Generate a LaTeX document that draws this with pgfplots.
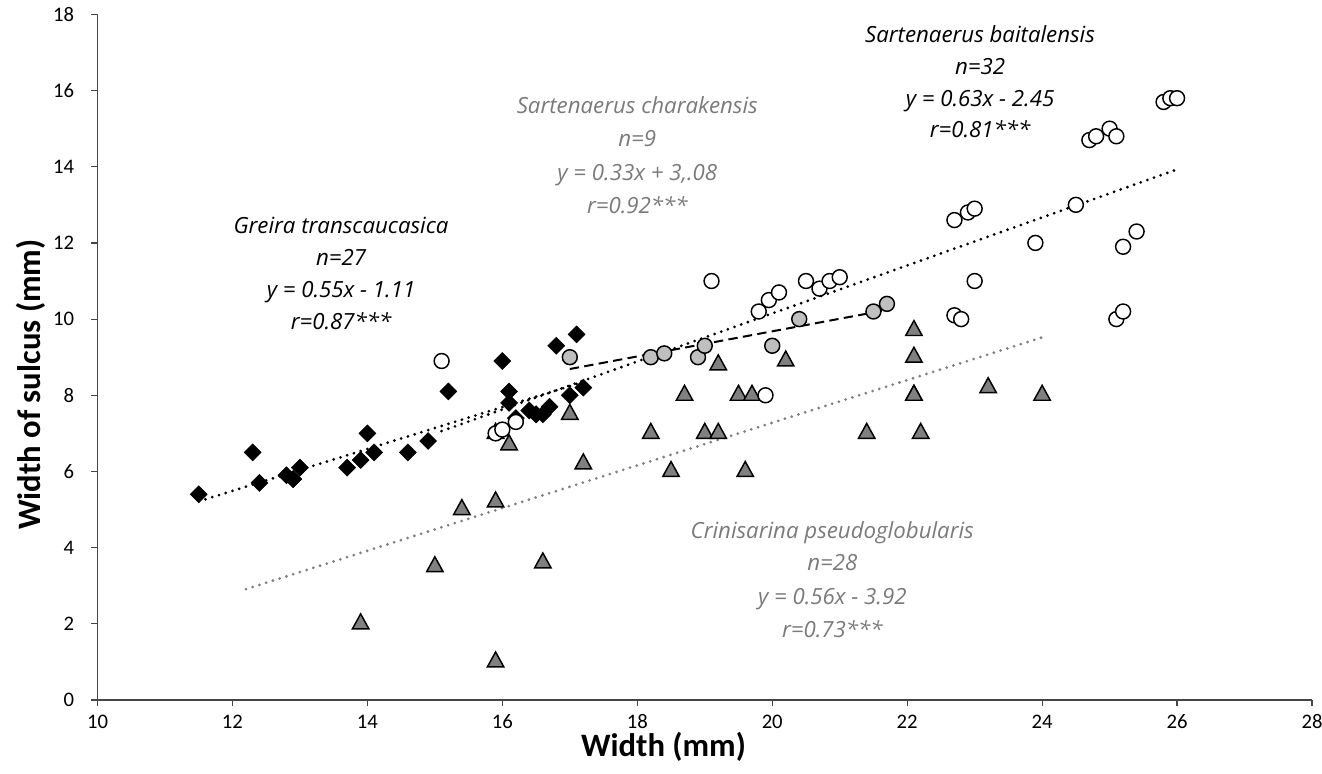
\documentclass[border=0pt]{standalone}
\usepackage{pgfplots}
\pgfplotsset{compat=1.18}
\usepackage{fontspec}
\setmainfont{Carlito}
\newfontfamily\annot{Open Sans}
\definecolor{ann}{RGB}{122,122,122}
\definecolor{tri}{RGB}{128,128,128}
\definecolor{lgc}{RGB}{191,191,191}
\definecolor{axc}{RGB}{70,70,70}
\def\px{0.75pt}
\begin{document}
\begin{tikzpicture}
\path[use as bounding box] (-97.5*\px,-74*\px) rectangle (1224.5*\px,700*\px);
\begin{axis}[
  scale only axis,
  width=910.9pt, height=514.2pt,
  xmin=10, xmax=28, ymin=0, ymax=18,
  xtick={10,12,...,28}, ytick={0,2,...,18},
  axis lines=left,
  axis line style={axc, line width=0.9pt, -},
  tick style={axc, line width=0.9pt},
  tick align=outside,
  major tick length=4.5pt,
  /pgf/number format/assume math mode=true,
  tick label style={font=\fontsize{15.5}{18}\selectfont, text=black},
  xticklabel style={yshift=-3pt},
  yticklabel style={xshift=-9.5pt},
  xlabel={\bfseries Width (mm)},
  ylabel={\bfseries Width of sulcus (mm)},
  label style={font=\fontsize{24.5}{27}\selectfont},
  xlabel style={at={(axis description cs:0.466,-0.069)}, anchor=center},
  ylabel style={at={(axis description cs:-0.0545,0.46)}, anchor=center, rotate=0},
  clip=false,
]
% trend lines
\addplot[black, line width=2.3pt, line cap=round, dash pattern=on 0pt off 5.3pt] coordinates {(11.5,5.215) (17.2,8.35)};
\addplot[black, line width=2.3pt, line cap=round, dash pattern=on 0pt off 5.3pt] coordinates {(15.1,7.06) (26.0,13.93)};
\addplot[tri, line width=2.3pt, line cap=round, dash pattern=on 0pt off 5.3pt] coordinates {(12.2,2.91) (24.0,9.52)};
% Greira transcaucasica
\addplot[only marks, mark=square*, mark size=4.5pt, mark options={rotate=45, fill=black, draw=black}] table {
x y
11.5 5.4
12.3 6.5
12.4 5.7
12.8 5.9
12.9 5.8
12.9 5.8
13.0 6.1
13.7 6.1
13.9 6.3
14.0 7.0
14.1 6.5
14.6 6.5
14.9 6.8
15.2 8.1
16.0 8.9
16.1 8.1
16.1 7.8
16.2 7.4
16.4 7.6
16.5 7.5
16.5 7.5
16.6 7.5
16.7 7.7
16.8 9.3
17.0 8.0
17.1 9.6
17.2 8.2
};
% Crinisarina pseudoglobularis
\addplot[only marks, mark=triangle*, mark size=7.1pt, mark options={fill=tri, draw=black, line width=1.1pt, yscale=1.05}] table {
x y
13.9 2.0
15.0 3.5
15.4 5.0
15.9 7.0
15.9 5.2
15.9 1.0
16.1 6.7
16.6 3.6
17.0 7.5
17.2 6.2
18.2 7.0
18.5 6.0
18.7 8.0
19.0 7.0
19.2 7.0
19.2 8.8
19.5 8.0
19.7 8.0
19.6 6.0
20.2 8.9
21.4 7.0
22.1 9.7
22.1 9.0
22.1 8.0
22.1 8.0
22.2 7.0
23.2 8.2
24.0 8.0
};
% Sartenaerus baitalensis
\addplot[only marks, mark=*, mark size=5.6pt, mark options={fill=white, draw=black, line width=1.1pt}] table {
x y
15.1 8.9
15.9 7.0
16.0 7.1
16.2 7.3
19.1 11.0
19.8 10.2
19.95 10.5
20.1 10.7
20.5 11.0
20.7 10.8
20.85 11.0
21.0 11.1
19.9 8.0
22.7 12.6
22.9 12.8
23.0 12.9
23.9 12.0
24.5 13.0
23.0 11.0
22.7 10.1
22.8 10.0
25.2 11.9
25.4 12.3
25.1 10.0
25.2 10.2
24.7 14.7
24.8 14.8
25.0 15.0
25.1 14.8
25.8 15.7
25.9 15.8
26.0 15.8
};
% Sartenaerus charakensis
\addplot[only marks, mark=*, mark size=5.6pt, mark options={fill=lgc, draw=black, line width=1.1pt}] table {
x y
17.0 9.0
18.2 9.0
18.4 9.1
18.9 9.0
19.0 9.3
20.0 9.3
20.4 10.0
21.5 10.2
21.7 10.4
};
\addplot[black, line width=1.5pt, dash pattern=on 7pt off 4pt] coordinates {(17.0,8.69) (21.7,10.24)};
% annotations
\begin{scope}[every node/.style={anchor=base, font=\annot\itshape\fontsize{16.7}{20}\selectfont, inner sep=0pt}]
\node[text=black] at (axis cs:13.61,12.26) {Greira transcaucasica};
\node[text=black] at (axis cs:13.61,11.42) {n=27};
\node[text=black] at (axis cs:13.61,10.58) {y = 0.55x - 1.11};
\node[text=black] at (axis cs:13.61,9.74) {r=0.87***};
\node[text=ann] at (axis cs:18.0,15.41) {Sartenaerus charakensis};
\node[text=ann] at (axis cs:18.0,14.54) {n=9};
\node[text=ann] at (axis cs:18.0,13.65) {y = 0.33x + 3,.08};
\node[text=ann] at (axis cs:18.0,12.76) {r=0.92***};
\node[text=black] at (axis cs:23.08,17.27) {Sartenaerus baitalensis};
\node[text=black] at (axis cs:23.08,16.43) {n=32};
\node[text=black] at (axis cs:23.08,15.59) {y = 0.63x - 2.45};
\node[text=black] at (axis cs:23.08,14.78) {r=0.81***};
\node[text=ann] at (axis cs:20.89,4.25) {Crinisarina pseudoglobularis};
\node[text=ann] at (axis cs:20.89,3.39) {n=28};
\node[text=ann] at (axis cs:20.89,2.52) {y = 0.56x - 3.92};
\node[text=ann] at (axis cs:20.89,1.65) {r=0.73***};
\end{scope}
\end{axis}
\end{tikzpicture}
\end{document}
